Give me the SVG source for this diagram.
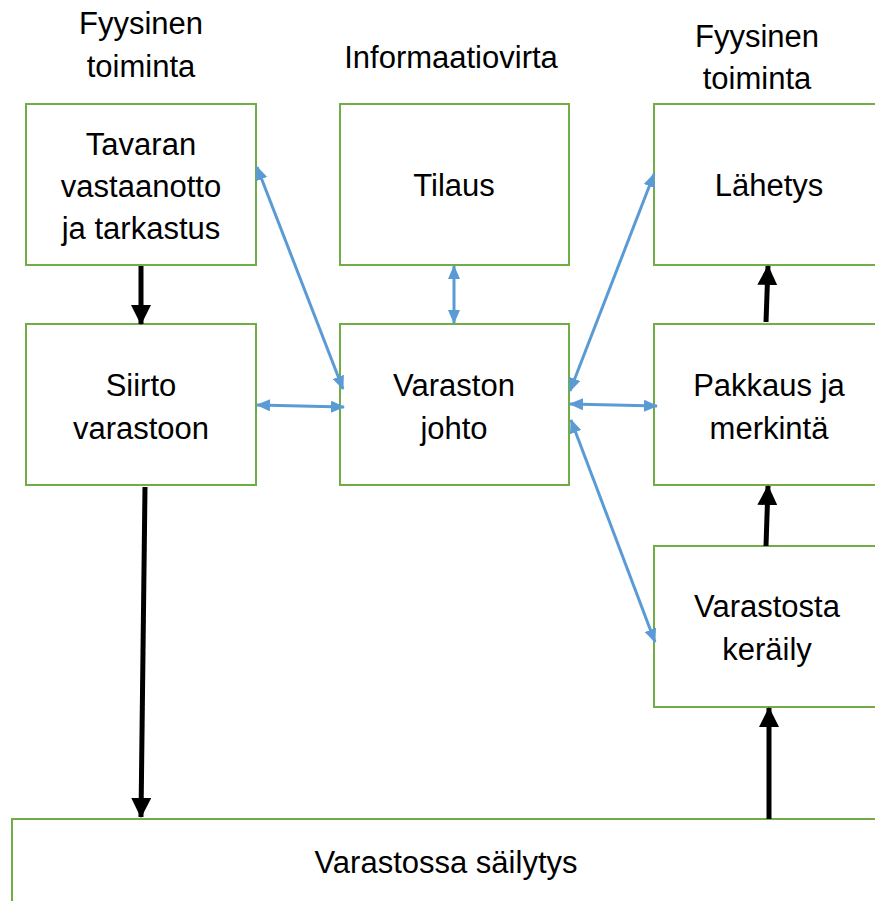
<svg xmlns="http://www.w3.org/2000/svg" width="875" height="901" viewBox="0 0 875 901">
<style>
.box{fill:#fff;stroke:#70AD47;stroke-width:2}
text{font-family:"Liberation Sans",Arial,sans-serif;font-size:31px;fill:#000;text-anchor:middle}
.blue{stroke:#5B9BD5;stroke-width:3;fill:none;marker-start:url(#bh);marker-end:url(#bh)}
.black{stroke:#000;stroke-width:5;fill:none;marker-end:url(#kh)}
</style>
<defs>
<marker id="bh" markerUnits="userSpaceOnUse" markerWidth="14" markerHeight="12" refX="13" refY="6" orient="auto-start-reverse" viewBox="0 0 14 12">
<path d="M0,0 L14,6 L0,12 Z" fill="#5B9BD5"/>
</marker>
<marker id="kh" markerUnits="userSpaceOnUse" markerWidth="20" markerHeight="20" refX="19" refY="10" orient="auto" viewBox="0 0 20 20">
<path d="M0,0 L20,10 L0,20 Z" fill="#000"/>
</marker>
</defs>
<rect width="875" height="901" fill="#fff"/>
<g id="labels">
<text x="141" y="34">Fyysinen</text>
<text x="141" y="77">toiminta</text>
<text x="451" y="68">Informaatiovirta</text>
<text x="757" y="47">Fyysinen</text>
<text x="757" y="89">toiminta</text>
</g>
<g id="n-vastaanotto">
<rect class="box" x="26" y="104" width="230" height="161"/>
<text x="141" y="155">Tavaran</text>
<text x="141" y="197">vastaanotto</text>
<text x="141" y="239">ja tarkastus</text>
</g>
<g id="n-tilaus">
<rect class="box" x="340" y="104" width="229" height="161"/>
<text x="454" y="196">Tilaus</text>
</g>
<g id="n-lahetys">
<rect class="box" x="654" y="104" width="230" height="161"/>
<text x="769" y="196">Lähetys</text>
</g>
<g id="n-siirto">
<rect class="box" x="26" y="324" width="230" height="161"/>
<text x="141" y="396">Siirto</text>
<text x="141" y="439">varastoon</text>
</g>
<g id="n-johto">
<rect class="box" x="340" y="324" width="229" height="161"/>
<text x="454" y="396">Varaston</text>
<text x="454" y="439">johto</text>
</g>
<g id="n-pakkaus">
<rect class="box" x="654" y="324" width="230" height="161"/>
<text x="769" y="396">Pakkaus ja</text>
<text x="769" y="439">merkintä</text>
</g>
<g id="n-kerailly">
<rect class="box" x="654" y="546" width="230" height="161"/>
<text x="767" y="617">Varastosta</text>
<text x="767" y="660">keräily</text>
</g>
<g id="n-sailytys">
<rect class="box" x="12" y="819" width="880" height="100"/>
<text x="446" y="873">Varastossa säilytys</text>
</g>
<g id="connectors">
<line class="black" x1="141" y1="266" x2="141" y2="324"/>
<line class="black" x1="145" y1="487" x2="141" y2="817"/>
<line class="black" x1="769" y1="819" x2="769" y2="708"/>
<line class="black" x1="766" y1="546" x2="768" y2="486"/>
<line class="black" x1="766" y1="322" x2="768" y2="266"/>
<line class="blue" x1="257" y1="167" x2="343" y2="389"/>
<line class="blue" x1="257" y1="405" x2="344" y2="407"/>
<line class="blue" x1="454" y1="266" x2="454" y2="323"/>
<line class="blue" x1="654" y1="174" x2="570" y2="391"/>
<line class="blue" x1="570" y1="404" x2="657" y2="406"/>
<line class="blue" x1="571" y1="420" x2="655" y2="642"/>
</g>
</svg>
